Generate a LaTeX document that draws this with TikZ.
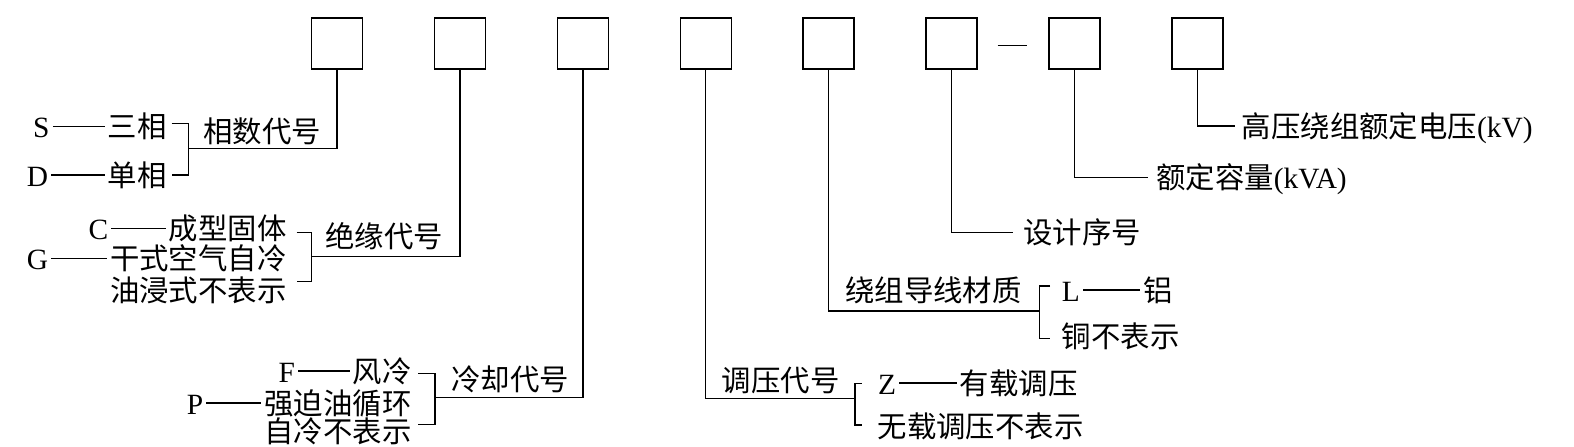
\documentclass[tikz,border=0pt]{standalone}
\usepackage{fontspec}
\setmainfont{Liberation Serif}
\newfontfamily\cjk{Noto Sans CJK SC}
\newcommand\fsz{\fontsize{29.4}{32}\selectfont}
\begin{document}
\begin{tikzpicture}[x=1pt,y=-1pt,
  codebox/.style={draw,line width=1.7pt,minimum width=51pt,minimum height=51pt,inner sep=0pt},
  lbl/.style={inner sep=0pt,font=\fsz,text height=24.7pt,text depth=2.4pt},
  link/.style={line width=1.2pt},
  dashlink/.style={line width=1.2pt,shorten <=3pt,shorten >=3pt}]
\useasboundingbox (0,0) rectangle (1574,447);
% code boxes
\node[codebox] (b1) at (337,43.7) {};
\node[codebox] (b2) at (459.95,43.7) {};
\node[codebox] (b3) at (582.9,43.7) {};
\node[codebox] (b4) at (705.85,43.7) {};
\node[codebox] (b5) at (828.8,43.7) {};
\node[codebox] (b6) at (951.75,43.7) {};
\node[codebox] (b7) at (1074.7,43.7) {};
\node[codebox] (b8) at (1197.65,43.7) {};
\draw[link] ([xshift=19.5pt,yshift=-1.4pt]b6.east) -- ([xshift=-21pt,yshift=-1.4pt]b7.west);

% phase
\node[lbl,anchor=west] (S) at (33,126.7) {S};
\node[lbl,anchor=east] (sx) at (166.7,126.7) {\cjk 三相};
\node[lbl,anchor=west] (D) at (26.7,175) {D};
\node[lbl,anchor=east] (dx) at (166.7,175) {\cjk 单相};
\draw[dashlink] (S.east) -- (sx.west);
\draw[dashlink] (D.east) -- (dx.west);
\coordinate (ph-t) at (171.7,123.3);
\coordinate (ph-b) at (171.7,175);
\coordinate (ph-m) at (188.3,148.3);
\draw[link] (ph-t) -| (ph-m) |- (ph-b);
\draw[link] (b1.south) |- (ph-m);
\node[lbl,anchor=west] (phase) at (203.3,131.7) {\cjk 相数代号};

% insulation
\node[lbl,anchor=west] (C) at (88.3,228.3) {C};
\node[lbl,anchor=east] (cx) at (286.7,228.3) {\cjk 成型固体};
\node[lbl,anchor=west] (G) at (26.7,258.3) {G};
\node[lbl,anchor=east] (gx) at (286.7,258.3) {\cjk 干式空气自冷};
\node[lbl,anchor=east] (ox) at (286.7,290) {\cjk 油浸式不表示};
\draw[dashlink] (C.east) -- (cx.west);
\draw[dashlink] (G.east) -- (gx.west);
\coordinate (ins-t) at (296.7,232.7);
\coordinate (ins-b) at (296.7,281.7);
\coordinate (ins-m) at (311.7,256.7);
\draw[link] (ins-t) -| (ins-m) |- (ins-b);
\draw[link] (b2.south) |- (ins-m);
\node[lbl,anchor=west] (insul) at (325,236.7) {\cjk 绝缘代号};

% cooling
\node[lbl,anchor=west] (F) at (278.3,371) {F};
\node[lbl,anchor=east] (fx) at (411.7,371) {\cjk 风冷};
\node[lbl,anchor=west] (P) at (186.7,403) {P};
\node[lbl,anchor=east] (px) at (411.7,403) {\cjk 强迫油循环};
\node[lbl,anchor=east] (zx) at (411.7,431.7) {\cjk 自冷不表示};
\draw[dashlink] (F.east) -- (fx.west);
\draw[dashlink] (P.east) -- (px.west);
\coordinate (co-t) at (418.3,373.3);
\coordinate (co-b) at (418.3,424.3);
\coordinate (co-m) at (435,397.5);
\draw[link] (co-t) -| (co-m) |- (co-b);
\draw[link] (b3.south) |- (co-m);
\node[lbl,anchor=west] (cool) at (451,379) {\cjk 冷却代号};

% voltage regulation
\coordinate (reg-m) at (855,398.3);
\coordinate (reg-t) at (861.7,383.3);
\coordinate (reg-b) at (861.7,425);
\draw[link] (reg-t) -| (reg-m) |- (reg-b);
\draw[link] (b4.south) |- (reg-m);
\node[lbl,anchor=west] (reg) at (721.7,380) {\cjk 调压代号};
\node[lbl,anchor=west] (Z) at (878,383) {Z};
\node[lbl,anchor=west] (zl) at (959.7,383) {\cjk 有载调压};
\draw[dashlink] (Z.east) -- (zl.west);
\node[lbl,anchor=west] (nl) at (877.5,426.7) {\cjk 无载调压不表示};

% winding material
\coordinate (wm-m) at (1039.3,311);
\coordinate (wm-t) at (1050,286);
\coordinate (wm-b) at (1050,338.3);
\draw[link] (wm-t) -| (wm-m) |- (wm-b);
\draw[link] (b5.south) |- (wm-m);
\node[lbl,anchor=west] (wind) at (845,290) {\cjk 绕组导线材质};
\node[lbl,anchor=west] (L) at (1061.7,290) {L};
\node[lbl,anchor=west] (al) at (1143,290) {\cjk 铝};
\draw[dashlink] (L.east) -- (al.west);
\node[lbl,anchor=west] (cu) at (1061.7,336.7) {\cjk 铜不表示};

% design number
\node[lbl,anchor=west] (design) at (1023,232.5) {\cjk 设计序号};
\draw[link] (b6.south) |- ([xshift=-9.7pt]design.west);

% capacity
\node[lbl,anchor=west] (cap) at (1156,177.5) {{\cjk 额定容量}(kVA)};
\draw[link] (b7.south) |- ([xshift=-7.7pt]cap.west);

% HV voltage
\node[lbl,anchor=west] (hv) at (1241.7,126) {{\cjk 高压绕组额定电压}(kV)};
\draw[link] (b8.south) |- ([xshift=-6.7pt]hv.west);
\end{tikzpicture}
\end{document}
